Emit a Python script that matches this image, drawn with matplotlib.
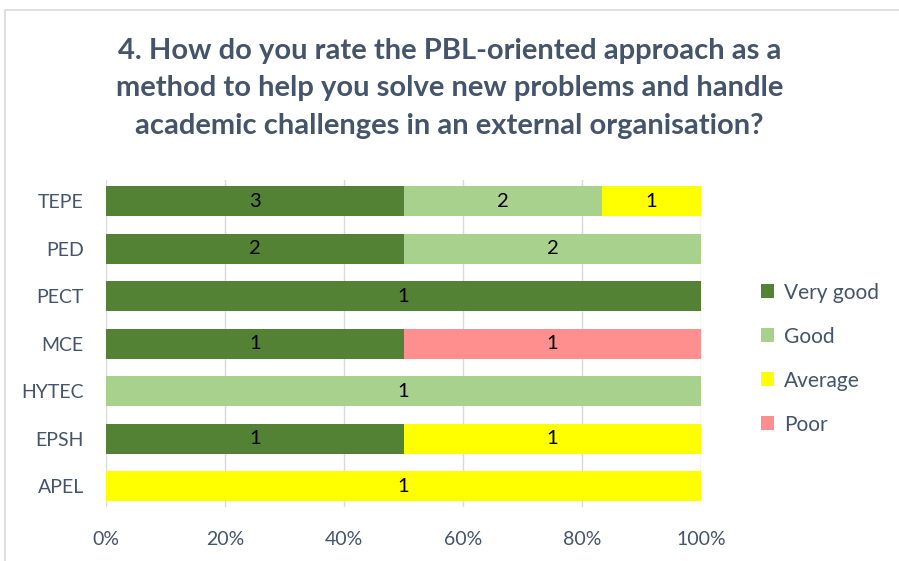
import numpy as np
import matplotlib.pyplot as plt
from matplotlib.patches import Rectangle

# data (bottom to top)
programs = ['APEL', 'EPSH', 'HYTEC', 'MCE', 'PECT', 'PED', 'TEPE']
ratings = ['Very good', 'Good', 'Average', 'Poor']
very_good = [0, 1, 0, 1, 1, 2, 3]
good = [0, 0, 1, 0, 0, 2, 2]
average = [1, 1, 0, 0, 0, 0, 1]
poor = [0, 0, 0, 1, 0, 0, 0]
colors = ['#548235', '#A9D18E', '#FFFF00', '#FF8F8F']

title = ('4. How do you rate the PBL-oriented approach as a\n'
         'method to help you solve new problems and handle\n'
         'academic challenges in an external organisation?')

plt.rcParams['font.family'] = ['Lato', 'DejaVu Sans']
text_color = '#44546A'

counts = np.array([very_good, good, average, poor], dtype=float)
totals = counts.sum(axis=0)
shares = counts / totals * 100

fig = plt.figure(figsize=(8.99, 5.61), dpi=100)
fig.patches.append(Rectangle((0.006, -0.1), 1.2, 1.082, transform=fig.transFigure,
                             fill=False, edgecolor='#D9D9D9', linewidth=1.2))
ax = fig.add_axes([0.118, 0.0955, 0.662, 0.584])

y = np.arange(len(programs))
left = np.zeros(len(programs))
for i in range(len(ratings)):
    ax.barh(y, shares[i], left=left, height=0.63, color=colors[i],
            label=ratings[i], zorder=3)
    for j in range(len(programs)):
        if counts[i, j] > 0:
            ax.text(left[j] + shares[i, j] / 2, y[j], '%d' % counts[i, j],
                    ha='center', va='center', fontsize=14.5, color='black', zorder=4)
    left += shares[i]

ax.set_xlim(0, 100)
ax.set_ylim(-0.45, 6.45)
ax.set_yticks(y)
ax.set_yticklabels(programs)
ax.set_xticks(np.arange(0, 101, 20))
ax.set_xticklabels(['%d%%' % v for v in range(0, 101, 20)])
ax.tick_params(axis='both', length=0, labelsize=14, labelcolor=text_color)
ax.tick_params(axis='x', pad=17)
ax.tick_params(axis='y', pad=16)
ax.grid(axis='x', color='#D9D9D9', linewidth=1, zorder=0)
for s in ax.spines.values():
    s.set_visible(False)

leg = ax.legend(loc='center left', bbox_to_anchor=(1.1, 0.454), frameon=False,
                fontsize=15, labelcolor=text_color, handlelength=0.65,
                handleheight=0.65, handletextpad=0.45, labelspacing=1.15,
                borderaxespad=0, borderpad=0)

fig.text(0.5, 0.843, title, ha='center', va='center', fontsize=21,
         fontweight='bold', color=text_color, linespacing=1.55)

fig.savefig('out.png', dpi=100)
